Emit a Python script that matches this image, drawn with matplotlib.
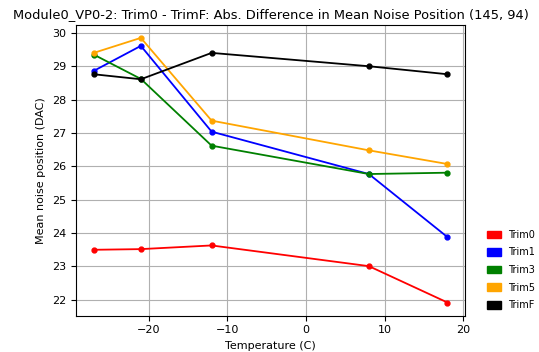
import matplotlib
matplotlib.use("Agg")
import matplotlib.pyplot as plt
from matplotlib.patches import Patch

temperatures = [-27, -21, -12, 8, 18]
trim0 = [23.50, 23.52, 23.63, 23.01, 21.92]
trim1 = [28.86, 29.61, 27.04, 25.77, 23.88]
trim3 = [29.35, 28.62, 26.62, 25.77, 25.81]
trim5 = [29.40, 29.85, 27.37, 26.48, 26.07]
trimF = [28.76, 28.61, 29.40, 29.00, 28.76]

series_names = ["Trim0", "Trim1", "Trim3", "Trim5", "TrimF"]
series_values = [trim0, trim1, trim3, trim5, trimF]
series_colors = ["red", "blue", "green", "orange", "black"]

fig = plt.figure(figsize=(5.39, 3.52), dpi=100)
ax = fig.add_axes([0.141, 0.103, 0.722, 0.827])

for name, vals, col in zip(series_names, series_values, series_colors):
    ax.plot(temperatures, vals, color=col, marker="o", markersize=3.5, linewidth=1.3)

ax.grid(True, color="#b0b0b0", linewidth=0.8)
ax.set_axisbelow(True)
ax.tick_params(labelsize=8)
ax.set_xlabel("Temperature (C)", fontsize=8)
ax.set_ylabel("Mean noise position (DAC)", fontsize=8)
ax.set_title("Module0_VP0-2: Trim0 - TrimF: Abs. Difference in Mean Noise Position (145, 94)",
             fontsize=9.4, pad=5)

handles = [Patch(color=c, label=n) for n, c in zip(series_names, series_colors)]
fig.legend(handles=handles, loc="lower left", bbox_to_anchor=(0.896, 0.108),
           frameon=False, fontsize=7, handlelength=1.5, handleheight=0.85,
           handletextpad=0.7, labelspacing=0.78, borderaxespad=0)

fig.savefig("out.png", dpi=100)
